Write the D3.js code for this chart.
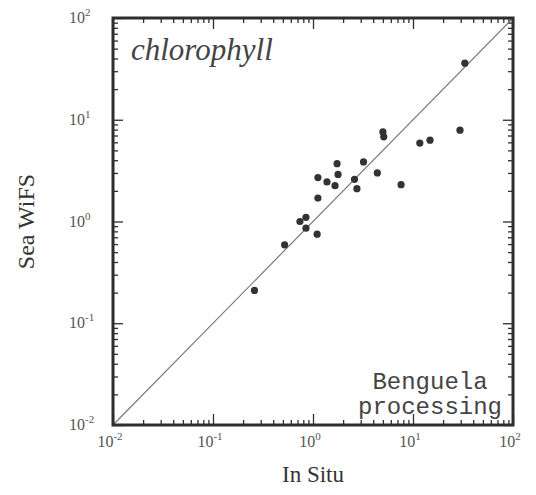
<!DOCTYPE html>
<html lang="en">
<head>
<meta charset="UTF-8">
<title>SeaWiFS chlorophyll</title>
<script src="https://d3js.org/d3.v7.min.js"></script>
<style>
  body { margin: 0; background: #fff; }
  svg { display: block; }
</style>
</head>
<body>
<div id="figure"></div>
<script>
// in situ vs satellite chlorophyll, mg m^-3
const inSitu  = [0.26, 0.52, 0.74, 0.85, 0.85, 1.1, 1.12, 1.12, 1.38, 1.66, 1.74, 1.78, 2.6, 2.75, 3.2, 4.4, 5.0, 5.1, 7.6, 11.7, 14.8, 29.5, 33];
const seaWifs = [0.21, 0.59, 1.0, 1.1, 0.86, 0.75, 1.7, 2.7, 2.45, 2.25, 3.7, 2.9, 2.6, 2.1, 3.85, 3.0, 7.6, 6.8, 2.3, 5.9, 6.3, 7.9, 36];
const decades = [-2, -1, 0, 1, 2];
const domain = [0.01, 100];

const W = 536, H = 495;
const pLeft = 113, pRight = 513, pTop = 18, pBottom = 425;

const svg = d3.select("#figure").append("svg")
    .attr("width", W)
    .attr("height", H);

const x = d3.scaleLog().domain(domain).range([pLeft, pRight]);
const y = d3.scaleLog().domain(domain).range([pBottom, pTop]);

const all = x.ticks();
const major = all.filter(v => Math.abs(Math.log10(v) - Math.round(Math.log10(v))) < 1e-9);
const minor = all.filter(v => !major.includes(v));

const ink = "#2e2e2e";

// inward ticks on all four sides
function ticks(axisFn, scale, vals, len, tx, ty) {
    const g = svg.append("g")
        .attr("transform", `translate(${tx},${ty})`)
        .call(axisFn(scale).tickValues(vals).tickSize(-len).tickFormat(""));
    g.select(".domain").remove();
    g.selectAll(".tick line").attr("stroke", ink).attr("stroke-width", 1.3);
}
ticks(d3.axisBottom, x, minor, 5, 0, pBottom);
ticks(d3.axisBottom, x, major, 11, 0, pBottom);
ticks(d3.axisTop, x, minor, 5, 0, pTop);
ticks(d3.axisTop, x, major, 11, 0, pTop);
ticks(d3.axisLeft, y, minor, 5, pLeft, 0);
ticks(d3.axisLeft, y, major, 10, pLeft, 0);
ticks(d3.axisRight, y, minor, 5, pRight, 0);
ticks(d3.axisRight, y, major, 10, pRight, 0);

// 1:1 line
svg.append("line")
    .attr("x1", x(domain[0])).attr("y1", y(domain[0]))
    .attr("x2", x(domain[1])).attr("y2", y(domain[1]))
    .attr("stroke", "#7a7a7a")
    .attr("stroke-width", 1.2);

// frame
svg.append("rect")
    .attr("x", pLeft).attr("y", pTop)
    .attr("width", pRight - pLeft).attr("height", pBottom - pTop)
    .attr("fill", "none")
    .attr("stroke", ink)
    .attr("stroke-width", 3);

// points
svg.append("g").selectAll("circle")
    .data(inSitu.map((v, i) => [v, seaWifs[i]]))
    .join("circle")
    .attr("cx", d => x(d[0]))
    .attr("cy", d => y(d[1]))
    .attr("r", 3.6)
    .attr("fill", "#333");

// tick labels: 10 with superscript exponent
function powLabel(sel) {
    sel.append("tspan").text("10");
    sel.append("tspan")
        .attr("font-size", 11)
        .attr("dy", -7)
        .text(d => d);
}
svg.append("g").selectAll("text")
    .data(decades)
    .join("text")
    .attr("x", d => x(Math.pow(10, d)) - 3)
    .attr("y", pBottom + 22)
    .attr("text-anchor", "middle")
    .attr("font-family", "Liberation Serif, serif")
    .attr("font-size", 16)
    .attr("fill", "#555")
    .call(powLabel);

svg.append("g").selectAll("text")
    .data(decades)
    .join("text")
    .attr("x", pLeft - 44)
    .attr("y", d => y(Math.pow(10, d)) + 5)
    .attr("font-family", "Liberation Serif, serif")
    .attr("font-size", 16)
    .attr("fill", "#555")
    .call(powLabel);

// axis titles
svg.append("text")
    .attr("x", (pLeft + pRight) / 2)
    .attr("y", 482)
    .attr("text-anchor", "middle")
    .attr("font-family", "Liberation Serif, serif")
    .attr("font-size", 23)
    .attr("fill", "#333")
    .text("In Situ");

svg.append("text")
    .attr("transform", `translate(34,${(pTop + pBottom) / 2}) rotate(-90)`)
    .attr("text-anchor", "middle")
    .attr("font-family", "Liberation Serif, serif")
    .attr("font-size", 24)
    .attr("fill", "#333")
    .text("Sea WiFS");

// panel annotations
svg.append("text")
    .attr("x", 131)
    .attr("y", 60)
    .attr("font-family", "Liberation Serif, serif")
    .attr("font-style", "italic")
    .attr("font-size", 31)
    .attr("fill", "#444")
    .text("chlorophyll");

const note = svg.append("text")
    .attr("text-anchor", "middle")
    .attr("font-family", "Liberation Mono, monospace")
    .attr("font-size", 24)
    .attr("fill", "#444");
note.append("tspan").attr("x", 430).attr("y", 389).text("Benguela");
note.append("tspan").attr("x", 430).attr("y", 414).text("processing");
</script>
</body>
</html>
